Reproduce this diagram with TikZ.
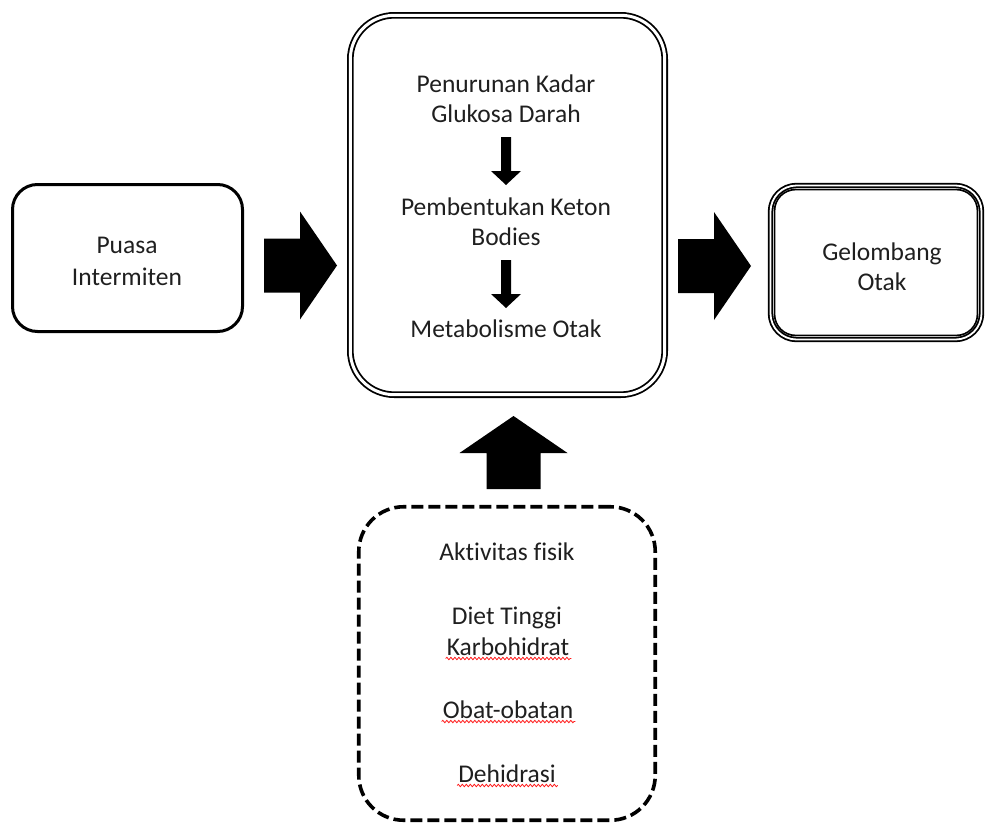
\documentclass[tikz,border=0pt]{standalone}
\usepackage{fontspec}
\setmainfont{Carlito}[Ligatures=NoCommon]
\usetikzlibrary{decorations.pathmorphing}
\begin{document}
\begin{tikzpicture}[x=1pt,y=-1pt,
  txt/.style={font=\fontsize{25.5}{30}\selectfont, inner sep=0pt, anchor=base, text=black!88},
  boxbase/.style={draw=black, fill=none, inner sep=0pt},
  leftbox/.style={boxbase, line width=3pt, rounded corners=25pt, minimum width=230pt, minimum height=147pt},
  midbox/.style={boxbase, line width=1.8pt, double=white, double distance=3pt, rounded corners=44pt, minimum width=314.4pt, minimum height=379.4pt},
  rightbox/.style={boxbase, line width=1.8pt, double=white, double distance=1.8pt, rounded corners=26pt, minimum width=211pt, minimum height=154pt},
  dashbox/.style={boxbase, line width=3.6pt, dash pattern=on 12pt off 5pt, rounded corners=45pt, minimum width=296.5pt, minimum height=313.5pt},
  wavy/.style={draw=red!90!white, line width=0.8pt, decorate, decoration={snake, amplitude=1.2pt, segment length=4pt}},
  blockarrow/.pic={\fill[black] (0,-27) -- (36,-27) -- (36,-54) -- (73,0) -- (36,54) -- (36,27) -- (0,27) -- cycle;},
  smallarrow/.pic={\fill[black] (0,-5) -- (34,-5) -- (34,-15) -- (48,0) -- (34,15) -- (34,5) -- (0,5) -- cycle;}
]
\useasboundingbox (0,0) rectangle (985,827);

% boxes
\node[leftbox] (puasa) at (127.5,258) {};
\node[midbox] (mid) at (507.5,205) {};
\node[rightbox] (gel) at (876,262.5) {};
\draw[line width=1.6pt, rounded corners=21pt] ([shift={(5pt,-5pt)}]gel.north west) rectangle ([shift={(-5pt,5pt)}]gel.south east);
\node[dashbox] (fak) at (507,663.5) {};

% big block arrows
\pic (arrA) at (264,265.5) {blockarrow};
\pic (arrB) at (678,266) {blockarrow};
\pic[rotate=90] (arrC) at (513.5,489) {blockarrow};

% small arrows in middle box
\pic[rotate=-90] (sa1) at (506,137) {smallarrow};
\pic[rotate=-90] (sa2) at (506,260) {smallarrow};

% texts
\node[txt] (p1) at (127,253) {Puasa};
\node[txt] (p2) at (127,285) {Intermiten};

\node[txt] (m1) at (506,92) {Penurunan Kadar};
\node[txt] (m2) at (506,122.5) {Glukosa Darah};
\node[txt] (m3) at (506,215) {Pembentukan Keton};
\node[txt] (m4) at (506,245) {Bodies};
\node[txt] (m5) at (506,337) {Metabolisme Otak};

\node[txt] (g1) at (882,260) {Gelombang};
\node[txt] (g2) at (882,290) {Otak};

\node[txt] (f1) at (507,560) {Aktivitas fisik};
\node[txt] (f2) at (507,624) {Diet Tinggi};
\node[txt] (f3) at (508,655) {Karbohidrat};
\node[txt] (f4) at (508,718) {Obat-obatan};
\node[txt] (f5) at (507,782) {Dehidrasi};

% spell-check underlines
\draw[wavy] ([shift={(-1pt,-3.5pt)}]f3.base west) -- ([shift={(2pt,-3.5pt)}]f3.base east);
\draw[wavy] ([shift={(-1pt,-3.5pt)}]f4.base west) -- ([shift={(2pt,-3.5pt)}]f4.base east);
\draw[wavy] ([shift={(-1pt,-3.5pt)}]f5.base west) -- ([shift={(2pt,-3.5pt)}]f5.base east);
\end{tikzpicture}
\end{document}
